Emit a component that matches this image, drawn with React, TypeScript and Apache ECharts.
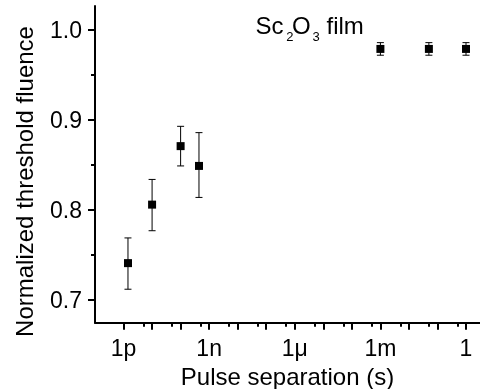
import { useEffect, useRef } from 'react';
import * as echarts from 'echarts';

// Pulse separation in seconds
const seconds = [1.43e-12, 1e-11, 1e-10, 4.4e-10, 1e-3, 0.05, 1];
// Normalized threshold fluence
const fluence = [0.741, 0.806, 0.871, 0.849, 0.979, 0.979, 0.979];
const errLow = [0.712, 0.777, 0.849, 0.814, 0.972, 0.972, 0.972];
const errHigh = [0.769, 0.834, 0.893, 0.886, 0.986, 0.986, 0.986];

const xLabelValues = [1e-12, 1e-9, 1e-6, 1e-3, 1];
const xLabelTexts = ['1p', '1n', '1\u03bc', '1m', '1'];
const xMajorTicks = [1e-12, 1e-11, 1e-10, 1e-9, 1e-8, 1e-7, 1e-6, 1e-5, 1e-4, 1e-3, 1e-2, 1e-1, 1];
const xMinorTicks = [5e-12, 5e-11, 5e-10, 5e-9, 5e-8, 5e-7, 5e-6, 5e-5, 5e-4, 5e-3, 5e-2, 5e-1];
const yMajorTicks = [0.7, 0.8, 0.9, 1.0];
const yMinorTicks = [0.75, 0.85, 0.95];

const FONT = '"Liberation Sans", Arial, sans-serif';

export default function App() {
  const ref = useRef<HTMLDivElement>(null);
  useEffect(() => {
    const chart = echarts.init(ref.current!, null, { renderer: 'svg' });
    const lg = (v: number) => Math.log10(v);
    const xs = seconds.map(lg);
    const labelExps = xLabelValues.map(lg);
    const xMin = -13;
    const xMax = 0.49;
    const yMin = 0.6748;
    const yMax = 1.0267;
    const black = '#000';
    const gridBox = { left: 95, top: 6, right: 0, bottom: 66.3, outerBoundsMode: 'none', containLabel: false };

    chart.setOption({
      animation: false,
      grid: [gridBox, { ...gridBox }],
      xAxis: [
        {
          type: 'value',
          gridIndex: 0,
          min: xMin,
          max: xMax,
          position: 'bottom',
          axisLine: { show: true, onZero: false, lineStyle: { color: black, width: 2 } },
          axisTick: { show: true, customValues: xMajorTicks.map(lg), length: 7, lineStyle: { color: black, width: 2 } },
          axisLabel: {
            customValues: labelExps,
            margin: 14,
            color: black,
            fontSize: 23,
            fontFamily: FONT,
            formatter: (v: number) => {
              let best = 0;
              labelExps.forEach((e, i) => {
                if (Math.abs(e - v) < Math.abs(labelExps[best] - v)) best = i;
              });
              return xLabelTexts[best];
            },
          },
          splitLine: { show: false },
          name: 'Pulse separation (s)',
          nameLocation: 'middle',
          nameGap: 40,
          nameTextStyle: { color: black, fontSize: 24, fontFamily: FONT },
        },
        {
          type: 'value',
          gridIndex: 1,
          min: xMin,
          max: xMax,
          position: 'bottom',
          axisLine: { show: false, onZero: false },
          axisTick: { show: true, customValues: xMinorTicks.map(lg), length: 4, lineStyle: { color: black, width: 2 } },
          axisLabel: { show: false },
          splitLine: { show: false },
        },
      ],
      yAxis: [
        {
          type: 'value',
          gridIndex: 0,
          min: yMin,
          max: yMax,
          position: 'left',
          axisLine: { show: true, onZero: false, lineStyle: { color: black, width: 2 } },
          axisTick: { show: true, customValues: yMajorTicks, length: 7, lineStyle: { color: black, width: 2 } },
          axisLabel: {
            customValues: yMajorTicks,
            margin: 13,
            color: black,
            fontSize: 23,
            fontFamily: FONT,
            formatter: (v: number) => v.toFixed(1),
          },
          splitLine: { show: false },
        },
        {
          type: 'value',
          gridIndex: 1,
          min: yMin,
          max: yMax,
          position: 'left',
          axisLine: { show: false, onZero: false },
          axisTick: { show: true, customValues: yMinorTicks, length: 4, lineStyle: { color: black, width: 2 } },
          axisLabel: { show: false },
          splitLine: { show: false },
        },
      ],
      series: [
        {
          type: 'custom',
          xAxisIndex: 0,
          yAxisIndex: 0,
          z: 1,
          encode: { x: 0, y: [1, 2] },
          data: xs.map((x, i) => [x, errLow[i], errHigh[i]]),
          renderItem: (params: any, api: any) => {
            const x = api.value(0);
            const lo = api.coord([x, api.value(1)]);
            const hi = api.coord([x, api.value(2)]);
            const hw = 3.5;
            const st = { stroke: black, lineWidth: 1 };
            return {
              type: 'group',
              children: [
                { type: 'line', shape: { x1: lo[0], y1: lo[1], x2: hi[0], y2: hi[1] }, style: st },
                { type: 'line', shape: { x1: lo[0] - hw, y1: lo[1], x2: lo[0] + hw, y2: lo[1] }, style: st },
                { type: 'line', shape: { x1: hi[0] - hw, y1: hi[1], x2: hi[0] + hw, y2: hi[1] }, style: st },
              ],
            };
          },
        },
        {
          type: 'scatter',
          xAxisIndex: 0,
          yAxisIndex: 0,
          z: 2,
          symbol: 'rect',
          symbolSize: 8,
          itemStyle: { color: black, opacity: 1 },
          data: xs.map((x, i) => [x, fluence[i]]),
        },
      ],
      graphic: [
        {
          type: 'text',
          x: 24.7,
          y: 181.5,
          rotation: Math.PI / 2,
          style: { text: 'Normalized threshold fluence', fontSize: 24, fontFamily: FONT, fill: black, align: 'center', verticalAlign: 'middle' },
        },
        { type: 'text', x: 255.5, y: 25, style: { text: 'Sc', fontSize: 24, fontFamily: FONT, fill: black, align: 'left', verticalAlign: 'middle' } },
        { type: 'text', x: 286.3, y: 36.8, style: { text: '2', fontSize: 13, fontFamily: FONT, fill: black, align: 'left', verticalAlign: 'middle' } },
        { type: 'text', x: 292, y: 25, style: { text: 'O', fontSize: 24, fontFamily: FONT, fill: black, align: 'left', verticalAlign: 'middle' } },
        { type: 'text', x: 312.6, y: 36.8, style: { text: '3', fontSize: 13, fontFamily: FONT, fill: black, align: 'left', verticalAlign: 'middle' } },
        { type: 'text', x: 326.5, y: 25, style: { text: 'film', fontSize: 24, fontFamily: FONT, fill: black, align: 'left', verticalAlign: 'middle' } },
      ],
    });
    return () => chart.dispose();
  }, []);
  return <div ref={ref} style={{ position: 'fixed', left: 0, top: 0, width: 480, height: 389 }} />;
}
